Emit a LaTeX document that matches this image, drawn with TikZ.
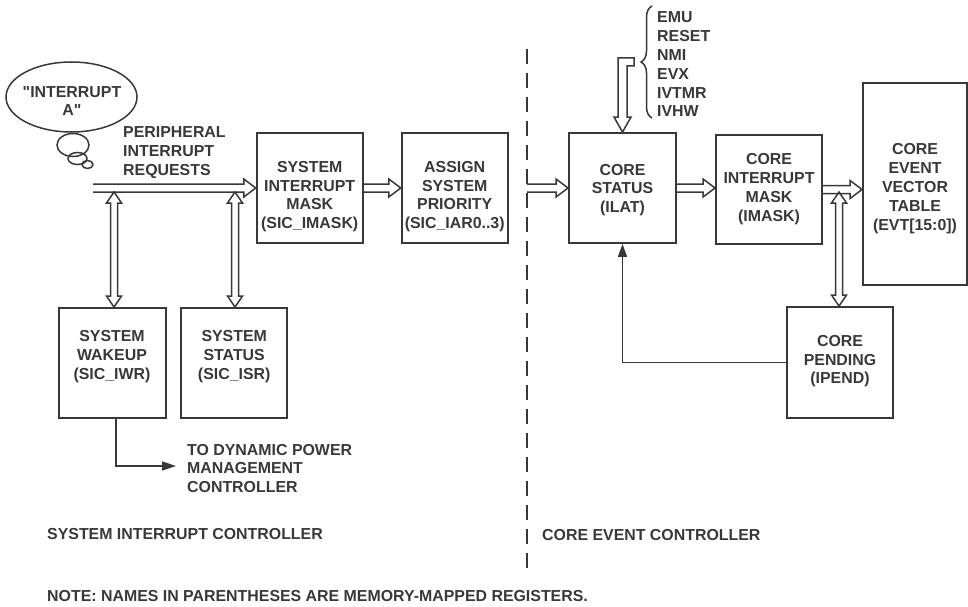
\documentclass[tikz,border=0pt]{standalone}
\usepackage{fontspec}
\setmainfont{Liberation Sans}[Ligatures=TeXOff]
\usepackage{tikz}
\usetikzlibrary{calc,arrows.meta,decorations.pathreplacing}
\definecolor{ink}{HTML}{383838}

\begin{document}
\begin{tikzpicture}[x=1pt,y=-1pt,
  box/.style={draw=ink,line width=1.9pt,minimum width=106pt,minimum height=110pt,inner sep=0pt},
  lbl/.style={text=ink,align=center,inner sep=0pt,font=\fontsize{15.9}{18.8}\selectfont\bfseries},
  wire/.style={draw=ink,line width=1.5pt},
  hollow/.style={wire,line join=miter,to path={let \p1=(\tikztostart),\p2=(\tikztotarget) in
    (\x1,\y1+4pt) -- (\x2-12pt,\y1+4pt) -- (\x2-12pt,\y1+9pt) -- (\x2,\y1)
    -- (\x2-12pt,\y1-9pt) -- (\x2-12pt,\y1-4pt) -- (\x1,\y1-4pt)}},
  updown/.style={wire,line join=miter,to path={let \p1=(\tikztostart),\p2=(\tikztotarget) in
    (\x1,\y1) -- (\x1+7.5pt,\y1-11pt) -- (\x1+3.5pt,\y1-11pt) -- (\x1+3.5pt,\y2+11pt)
    -- (\x1+7.5pt,\y2+11pt) -- (\x1,\y2) -- (\x1-7.5pt,\y2+11pt) -- (\x1-3.5pt,\y2+11pt)
    -- (\x1-3.5pt,\y1-11pt) -- (\x1-7.5pt,\y1-11pt) -- cycle}}]
  \useasboundingbox (0,0) rectangle (968,607);

  \coordinate (preq) at (93,188);
  \coordinate (tap1) at (114,192);
  \coordinate (tap2) at (235,192);
  \coordinate (cin) at (527,188);
  \coordinate (tap3) at (839,192);
  \coordinate (btip) at (639,62);
  \coordinate (dpm) at (176,466);

  \node[box] (imask) at (309.7,188) {};
  \node[box] (prio) at (454.7,188) {};
  \node[box,minimum width=107pt] (wake) at (112.5,363) {};
  \node[box] (status) at (234.2,363) {};
  \node[box,minimum width=107pt] (cstat) at (622.5,188) {};
  \node[box,minimum height=109pt] (cmask) at (769,189.5) {};
  \node[box,minimum width=104pt,minimum height=202pt] (evt) at (915,184) {};
  \node[box,minimum height=111pt] (pend) at (840,362.5) {};

  \node[lbl] (imask-t) at (309.7,196.5) {SYSTEM\\INTERRUPT\\MASK\\(SIC\_IMASK)};
  \node[lbl] (prio-t) at (454.7,196.5) {ASSIGN\\SYSTEM\\PRIORITY\\(SIC\_IAR0..3)};
  \node[lbl] (wake-t) at (112,356.5) {SYSTEM\\WAKEUP\\(SIC\_IWR)};
  \node[lbl] (status-t) at (234.2,356.5) {SYSTEM\\STATUS\\(SIC\_ISR)};
  \node[lbl] (cstat-t) at (622.5,190) {CORE\\STATUS\\(ILAT)};
  \node[lbl] (cmask-t) at (769,189) {CORE\\INTERRUPT\\MASK\\(IMASK)};
  \node[lbl] (evt-t) at (915,188.5) {CORE\\EVENT\\VECTOR\\TABLE\\(EVT[15:0])};
  \node[lbl] (pend-t) at (840,361.2) {CORE\\PENDING\\(IPEND)};

  \draw[wire] (71.5,97) ellipse (65.5pt and 35pt);
  \draw[wire] (73,145) ellipse (16pt and 11.5pt);
  \draw[wire] (77.5,158.5) ellipse (9.5pt and 6pt);
  \draw[wire] (87.5,164.5) ellipse (5.5pt and 4pt);
  \node[lbl] (intA) at (72,101) {"INTERRUPT\\A"};

  \node[lbl,align=left,anchor=west] (preq-t) at (123,152.5) {PERIPHERAL\\INTERRUPT\\REQUESTS};
  \node[lbl,align=left,anchor=west] (dpm-t) at (187,468.5) {TO DYNAMIC POWER\\MANAGEMENT\\CONTROLLER};
  \node[lbl,align=left,anchor=west] (evlist) at (657,64.5) {EMU\\RESET\\NMI\\EVX\\IVTMR\\IVHW};

  \draw[hollow] (preq) to (imask.west);
  \draw[hollow] (imask.east) to (prio.west);
  \draw[hollow] (cin) to (cstat.west);
  \draw[hollow] (cstat.east) to (cmask.west);
  \draw[hollow] (cmask.east) to (evt.west);
  \draw[updown] (tap1) to (wake.north);
  \draw[updown] (tap2) to (status.north);
  \draw[updown] (tap3) to (pend.north);

  \draw[wire,decorate,decoration={brace,amplitude=11pt}] (652,118) -- (652,6);
  \draw[wire,line join=miter] let \p1=(btip), \p2=(cstat.north) in
    (\x1-5pt,\y1+4pt) -- (\x2-4.5pt,\y1+4pt) -- (\x2-4.5pt,\y2+15pt) -- (\x2-8.5pt,\y2+15pt)
    -- (\p2) -- (\x2+8.5pt,\y2+15pt) -- (\x2+4.5pt,\y2+15pt) -- (\x2+4.5pt,\y1-4pt)
    -- (\x1-5pt,\y1-4pt) -- cycle;

  \draw[wire,-{Triangle[length=14pt,width=9pt]}] ([xshift=3.5pt]wake.south) |- (dpm);
  \draw[wire,-{Triangle[length=13pt,width=9pt]}] (pend.west) -| (cstat.south);

  \draw[ink,line width=1.8pt,dash pattern=on 15pt off 9pt] (527,49) -- (527,568);

  \node[lbl,anchor=west] (sic) at (47,534) {SYSTEM INTERRUPT CONTROLLER};
  \node[lbl,anchor=west] (cec) at (542,535) {CORE EVENT CONTROLLER};
  \node[lbl,anchor=west] (note) at (47,596.5) {NOTE: NAMES IN PARENTHESES ARE MEMORY-MAPPED REGISTERS.};
\end{tikzpicture}
\end{document}
